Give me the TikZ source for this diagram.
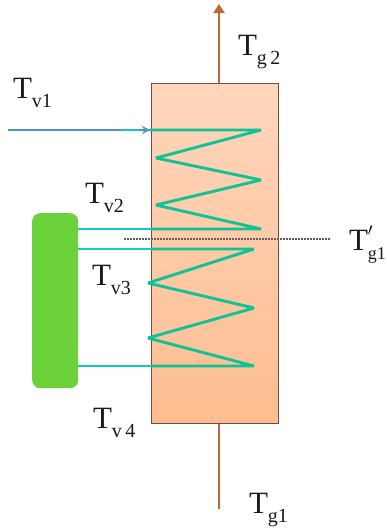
\documentclass[tikz,border=0pt]{standalone}
\usepackage{fontspec}
\setmainfont{Liberation Serif}
\usetikzlibrary{arrows.meta}
\definecolor{brownline}{HTML}{C0673A}
\definecolor{coilcol}{HTML}{10C296}
\definecolor{tubecol}{HTML}{10CDBE}
\definecolor{inlet}{HTML}{4A95C8}
\definecolor{boxedge}{HTML}{6A4E46}
\definecolor{boxtop}{HTML}{FFD6BC}
\definecolor{boxbot}{HTML}{FDBD90}
\definecolor{tank}{HTML}{6CD23C}
\definecolor{ink}{HTML}{1A1A1A}
\newcommand{\lbl}[1]{\fontsize{31}{31}\selectfont T\raisebox{-9pt}{\fontsize{20}{20}\selectfont #1}}
\tikzset{
  x=1pt,y=-1pt,
  lab/.style={anchor=base west,inner sep=0pt,outer sep=0pt,text=ink},
  coil/.style={draw=coilcol,line width=2.9pt,line join=miter,miter limit=3},
  tube/.style={draw=tubecol,line width=2.9pt},
  gas/.style={draw=brownline,line width=2.9pt},
}
\begin{document}
\begin{tikzpicture}
\useasboundingbox (0,0) rectangle (386,530);
\coordinate (gtop) at (219,4);
\coordinate (gbot) at (219,509);
\node[draw=boxedge,line width=1.4pt,top color=boxtop,bottom color=boxbot,minimum width=127pt,minimum height=340pt,inner sep=0pt,anchor=north west] (hx) at (151,83) {};
\draw[gas,-{Triangle[length=9pt,width=11pt]}] (hx.north -| gtop) -- (gtop);
\draw[gas] (hx.south -| gbot) -- (gbot);
\node[fill=tank,rounded corners=8pt,minimum width=46pt,minimum height=175pt,inner sep=0pt,anchor=north west] (tank) at (32,213) {};
\coordinate (in0) at (8,130);
\coordinate (in1) at (150,130);
\coordinate (c0) at (123,130);
\coordinate (a1) at (261,130);
\coordinate (a2) at (156,158);
\coordinate (a3) at (261,180);
\coordinate (a4) at (156,205);
\coordinate (a5) at (261,229);
\coordinate (b1) at (254,249);
\coordinate (b2) at (148,283);
\coordinate (b3) at (254,308);
\coordinate (b4) at (148,338);
\coordinate (b5) at (254,366);
\draw[draw=inlet,line width=2.4pt] (in0) -- (c0);
\draw[tube] (c0) -- (in1);
\draw[coil] (in1) -- (a1) -- (a2) -- (a3) -- (a4) -- (a5) -- (hx.west |- a5);
\draw[tube] (hx.west |- a5) -- (tank.east |- a5);
\draw[coil] (hx.west |- b1) -- (b1) -- (b2) -- (b3) -- (b4) -- (b5) -- (hx.west |- b5);
\draw[tube] (hx.west |- b1) -- (tank.east |- b1);
\draw[tube] (hx.west |- b5) -- (tank.east |- b5);
\draw[-{Stealth[length=8pt,width=8pt]},draw=inlet,line width=1.2pt] (140,130) -- (in1);
\coordinate (d0) at (124,239);
\coordinate (d1) at (331,239);
\draw[draw=ink!70,line width=1.5pt,dash pattern=on 1.5pt off 1.5pt] (d0) -- (d1);
\node[lab] (tv1) at (13,98) {\lbl{v1}};
\node[lab] (tv2) at (85,203) {\lbl{v2}};
\node[lab] (tv3) at (92,285) {\lbl{v3}};
\node[lab] (tv4) at (93,428) {\lbl{v\,4}};
\node[lab] (tg2) at (238,55) {\lbl{g\,2}};
\node[lab] (tg1) at (249,513) {\lbl{g1}};
\node[lab] (tgp) at (349,250) {\fontsize{31}{31}\selectfont T\rlap{\raisebox{5pt}{\fontsize{26}{26}\selectfont$'$}}\raisebox{-9pt}{\fontsize{18}{18}\selectfont g1}};
\end{tikzpicture}
\end{document}
